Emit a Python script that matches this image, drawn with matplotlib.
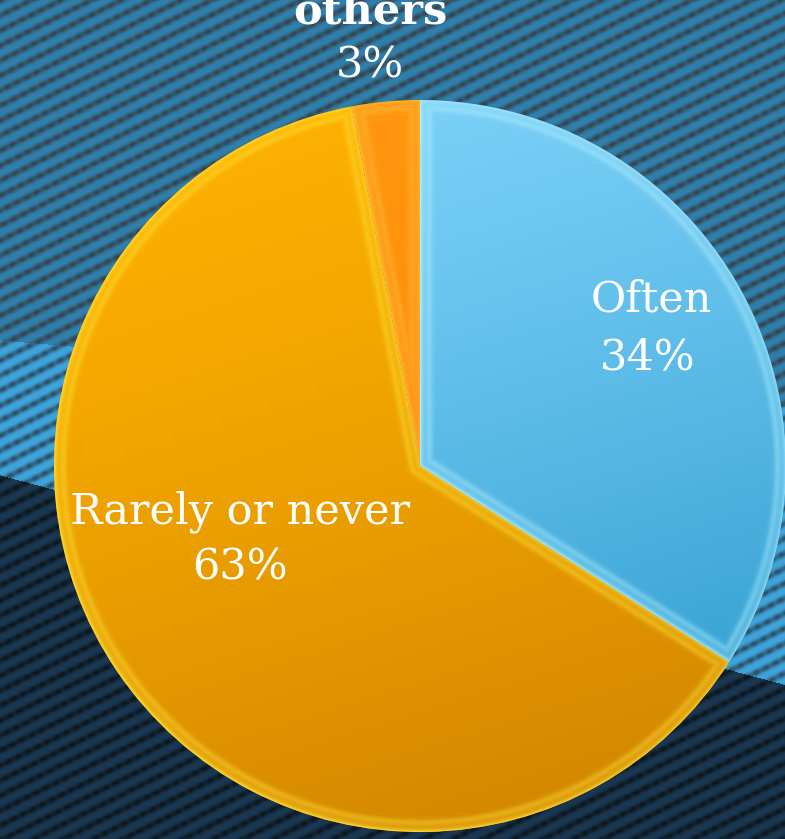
import numpy as np
import matplotlib.pyplot as plt
from matplotlib.colors import to_rgb

# survey answers
labels = ["Often", "Rarely or never", "others"]
shares = [34, 63, 3]

W, H = 785, 839
cx, cy, R = 420, H - 466, 366

fig = plt.figure(figsize=(W / 100, H / 100), dpi=100)
ax = fig.add_axes([0, 0, 1, 1])
ax.set_xlim(0, W)
ax.set_ylim(0, H)
ax.axis("off")

# carbon-fibre style backdrop: three tinted zones with diagonal weave
yy, xx = np.mgrid[0:H, 0:W].astype(float)
phase = (yy + 0.5 * xx) / 15.0 * 2 * np.pi
along = (xx - 0.5 * yy) / 12.0 * 2 * np.pi
weave = np.clip(0.5 * (1 + np.cos(phase)), 0, 1)
weave = weave ** 1.8 * (0.85 + 0.15 * np.cos(along))

def zone(base, dark):
    b = np.array(to_rgb(base))
    d = np.array(to_rgb(dark))
    return b[None, None, :] * (1 - weave[..., None]) + d[None, None, :] * weave[..., None]

top = zone("#2f80ad", "#36434c")
band = zone("#3ea4dc", "#2c4d62")
bottom = zone("#1a3852", "#0c161d")
upper_edge = 340 + 0.085 * xx
lower_edge = 475 + 0.267 * xx
bg = np.where((yy < upper_edge)[..., None], top,
              np.where((yy < lower_edge)[..., None], band, bottom))
ax.imshow(np.clip(bg, 0, 1), extent=(0, W, 0, H), origin="upper", zorder=0)

wedges, _ = ax.pie(shares, startangle=90, counterclock=False, radius=R,
                   center=(cx, cy), frame=True,
                   wedgeprops=dict(linewidth=0))
ax.set_xlim(0, W)
ax.set_ylim(0, H)
ax.set_aspect("equal")
ax.axis("off")

# glossy fills: linear shade plus bright bevel along each wedge border
fills = [("#80d4fa", "#2898cc", "#b8f4ff"),
         ("#ffb300", "#d08400", "#ffe83a"),
         ("#ff9810", "#ff7c00", "#ffc040")]

gy, gx = np.mgrid[cy + R:cy - R - 1:-1, cx - R:cx + R + 1].astype(float)
dx, dy = gx - cx, gy - cy
rr = np.hypot(dx, dy)
th = np.degrees(np.arctan2(dy, dx))
shade = np.clip(((cy + R - gy) * 0.8 + (gx - cx + R) * 0.25) / (2 * R), 0, 1) ** 1.3

for w, (c0, c1, hi) in zip(wedges, fills):
    t1, t2 = w.theta1, w.theta2
    dists = [R - rr]
    for a in (t1, t2):
        delta = np.radians((th - a + 180) % 360 - 180)
        d = np.where(np.abs(delta) < np.pi / 2, rr * np.abs(np.sin(delta)), rr)
        dists.append(d)
    dmin = np.minimum.reduce(dists)
    bevel = 0.8 * np.exp(-np.clip(dmin, 0, None) / 3.0) + 0.35 * np.exp(-((dmin - 9) / 3.5) ** 2)
    a0, a1, ah = (np.array(to_rgb(c)) for c in (c0, c1, hi))
    img = a0 * (1 - shade[..., None]) + a1 * shade[..., None]
    img = img * (1 - bevel[..., None]) + ah * bevel[..., None]
    im = ax.imshow(np.clip(img, 0, 1), extent=(cx - R, cx + R + 1, cy - R, cy + R + 1),
                   origin="upper", zorder=2)
    im.set_clip_path(w)

for w in wedges:
    w.set_zorder(1)

# slice captions: name over percentage
name_pos = [(651, H - 300), (240, H - 512), (370, H - 12)]
pct_pos = [(648, H - 357), (240, H - 568), (370, H - 66)]
name_weight = ["normal", "normal", "bold"]
for lab, v, (nx, ny), (px, py), wt in zip(labels, shares, name_pos, pct_pos, name_weight):
    ax.text(nx, ny, lab, ha="center", va="center", color="white",
            fontsize=31, family=["DejaVu Serif"], fontweight=wt, zorder=5)
    ax.text(px, py, f"{v}%", ha="center", va="center", color="white",
            fontsize=31, family=["DejaVu Serif"], zorder=5)

fig.savefig("out.png", dpi=100)
